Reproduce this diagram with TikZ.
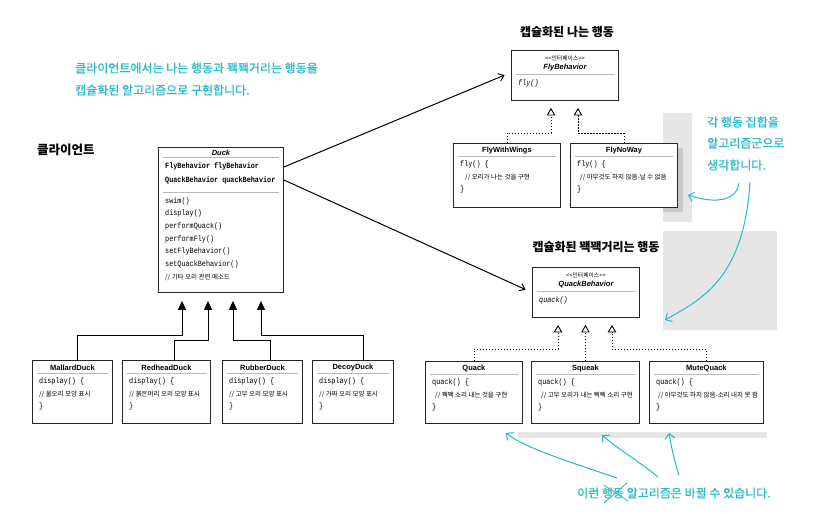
\documentclass[tikz,border=0pt]{standalone}
\usepackage{fontspec}
\setmainfont{Liberation Sans}
\newfontfamily\kr{Noto Sans CJK KR}
\newfontfamily\krh[FakeBold=0.6]{Noto Sans CJK KR}
\newfontfamily\mono[FakeStretch=0.85]{Liberation Mono}
\usetikzlibrary{arrows.meta,calc}
\definecolor{hand}{RGB}{38,186,200}
\definecolor{bggray}{RGB}{230,230,230}
\definecolor{shgray}{RGB}{200,200,200}
\definecolor{sepgray}{RGB}{185,185,185}
\tikzset{
 cls/.style={draw=black!85, line width=0.9pt, fill=white, inner sep=0pt, anchor=north west},
 ctitle/.style={font=\fontsize{7.5}{8}\selectfont\bfseries, inner sep=0pt},
 ititle/.style={font=\fontsize{7.5}{8}\selectfont\bfseries\itshape, inner sep=0pt},
 code/.style={font=\mono\fontsize{8}{9}\selectfont, inner sep=0pt, anchor=west},
 bcode/.style={font=\mono\bfseries\fontsize{8}{9}\selectfont, inner sep=0pt, anchor=west},
 icode/.style={font=\mono\itshape\fontsize{8}{9}\selectfont, inner sep=0pt, anchor=west},
 cmt/.style={font=\kr\fontsize{6.5}{7}\selectfont, inner sep=0pt, anchor=west},
 stereo/.style={font=\kr\fontsize{5.8}{7}\selectfont, inner sep=0pt},
 sepl/.style={draw=sepgray, line width=0.6pt},
 inh/.style={line width=0.9pt, -{Triangle[length=9pt,width=8pt]}, shorten >=8pt},
 real/.style={line width=0.9pt, dash pattern=on 1.5pt off 1.5pt, -{Triangle[open,length=7.5pt,width=8.5pt]}, shorten >=7pt},
 assoc/.style={line width=1pt, -{Straight Barb[length=5pt,width=8pt]}, shorten >=7pt},
 handarr/.style={draw=hand, line width=1pt, -{Straight Barb[length=5pt,width=10pt]}},
 handtxt/.style={font=\krh\fontsize{12}{14}\selectfont, text=hand, inner sep=0pt},
 head/.style={font=\kr\bfseries\fontsize{12}{14}\selectfont, inner sep=0pt},
}
\newcommand\implbox[9]{%
 \node[cls, minimum width=#4pt, minimum height=#5pt] (#1) at (#2,#3) {};
 \node[ctitle] (#1-t) at ([yshift=-8pt]#1.north) {#6};
 \draw[sepl] ([xshift=5pt,yshift=-13.5pt]#1.north west) -- ([xshift=-5pt,yshift=-13.5pt]#1.north east);
 \node[code] (#1-a) at ([xshift=7pt,yshift=-21.5pt]#1.north west) {#7};
 \node[cmt] (#1-b) at ([xshift=#8pt,yshift=-34pt]#1.north west) {#9};
 \node[code] (#1-c) at ([xshift=7pt,yshift=-46.5pt]#1.north west) {\}};
}
\newcommand\ifbox[7]{%
 \node[cls, minimum width=#4pt, minimum height=#5pt] (#1) at (#2,#3) {};
 \node[stereo] (#1-s) at ([yshift=-8pt]#1.north) {<\kern0pt<인터페이스>\kern0pt>};
 \node[ititle] (#1-t) at ([yshift=-18pt]#1.north) {#6};
 \draw[sepl] ([xshift=5pt,yshift=-24pt]#1.north west) -- ([xshift=-5pt,yshift=-24pt]#1.north east);
 \node[icode] (#1-m) at ([xshift=7pt,yshift=-33.5pt]#1.north west) {#7};
}
\begin{document}
\begin{tikzpicture}[x=1pt,y=-1pt]
\useasboundingbox (0,0) rectangle (815,514);
\fill[white] (0,0) rectangle (815,514);
% gray backgrounds
\fill[bggray] (663,113) rectangle (692,222);
\fill[bggray] (663,231) rectangle (777,330);
\fill[bggray] (518,432) rectangle (767,438);
\fill[shgray] (663,148) rectangle (683,212);

% headings
\node[head, anchor=west, font=\kr\bfseries\fontsize{12.5}{14}\selectfont] (h0) at (37,150) {클라이언트};
\node[head] (h1) at (567,32) {캡슐화된 나는 행동};
\node[head] (h2) at (596,247) {캡슐화된 꽥꽥거리는 행동};

% Duck
\node[cls, minimum width=125pt, minimum height=145pt] (duck) at (158,147) {};
\node[ititle] (duck-t) at ([yshift=-5.5pt]duck.north) {Duck};
\draw[sepl] ([xshift=5pt,yshift=-10.5pt]duck.north west) -- ([xshift=-5pt,yshift=-10.5pt]duck.north east);
\node[bcode] (duck-a1) at (165,166) {FlyBehavior flyBehavior};
\node[bcode] (duck-a2) at (165,180) {QuackBehavior quackBehavior};
\draw[sepl] ([xshift=5pt,yshift=-45pt]duck.north west) -- ([xshift=-5pt,yshift=-45pt]duck.north east);
\foreach \t [count=\i] in {swim(),display(),performQuack(),performFly(),setFlyBehavior(),setQuackBehavior()}
  \node[code] (duck-m\i) at (165,{188.3+12.7*\i}) {\t};
\node[cmt] (duck-m7) at (165,277) {// 기타 오리 관련 메소드};

% Duck subclasses
\implbox{md}{32}{360}{80}{63}{MallardDuck}{display() \{}{7}{// 물오리 모양 표시}
\implbox{rd}{122}{360}{88}{63}{RedheadDuck}{display() \{}{7}{// 붉은머리 오리 모양 표시}
\implbox{rb}{222}{360}{80}{63}{RubberDuck}{display() \{}{7}{// 고무 오리 모양 표시}
\implbox{dc}{312}{360}{81}{63}{DecoyDuck}{display() \{}{7}{// 가짜 오리 모양 표시}

\coordinate (j1) at (182,335);
\coordinate (j2) at (208,340);
\coordinate (j3) at (233,340);
\coordinate (j4) at (261,335);
\draw[inh] ([xshift=5pt]md.north) |- (j1) -- (j1 |- duck.south);
\draw[inh] ([xshift=8pt]rd.north) |- (j2) -- (j2 |- duck.south);
\draw[inh] ([xshift=8pt]rb.north) |- (j3) -- (j3 |- duck.south);
\draw[inh] ([xshift=10.5pt]dc.north) |- (j4) -- (j4 |- duck.south);

% Fly behaviours
\ifbox{flyb}{511}{50}{107}{50}{FlyBehavior}{fly()}
\implbox{fww}{453}{143}{107}{64}{FlyWithWings}{fly() \{}{12}{// 오리가 나는 것을 구현}
\implbox{fnw}{570}{143}{107}{64}{FlyNoWay}{fly() \{}{10}{// 아무것도 하지 않음-날 수 없음}
\coordinate (f1) at (551,133);
\coordinate (f2) at (578,133);
\draw[real] (fww.north) |- (f1) -- (f1 |- flyb.south);
\draw[real] (fnw.north) |- (f2) -- (f2 |- flyb.south);

% Quack behaviours
\ifbox{qb}{532}{267}{107}{50}{QuackBehavior}{quack()}
\implbox{qk}{425}{361}{97}{62}{Quack}{quack() \{}{10}{// 꽥꽥 소리 내는 것을 구현}
\implbox{sq}{531}{361}{108}{62}{Squeak}{quack() \{}{10}{// 고무 오리가 내는 삑삑 소리 구현}
\implbox{mq}{649}{361}{114}{62}{MuteQuack}{quack() \{}{9}{// 아무것도 하지 않음-소리 내지 못 함}
\coordinate (q1) at (558,349);
\coordinate (q3) at (612,349);
\draw[real] (qk.north) |- (q1) -- (q1 |- qb.south);
\draw[real] (sq.north) -- (sq.north |- qb.south);
\draw[real] (mq.north) |- (q3) -- (q3 |- qb.south);

% associations
\draw[assoc] ([yshift=-20pt]duck.north east) -- ([yshift=3pt]flyb.west);
\draw[assoc] ([yshift=-33pt]duck.north east) -- (qb.west);

% handwritten notes
\node[handtxt, anchor=west] (c1) at (75,68) {클라이언트에서는 나는 행동과 꽥꽥거리는 행동을};
\node[handtxt, anchor=west] (c2) at (75,90) {캡슐화된 알고리즘으로 구현합니다.};
\node[handtxt, anchor=west] (c3) at (707,122) {각 행동 집합을};
\node[handtxt, anchor=west] (c4) at (707,143) {알고리즘군으로};
\node[handtxt, anchor=west] (c5) at (707,165) {생각합니다.};
\node[handtxt, anchor=west] (c6) at (577,493) {이런 행동 알고리즘은 바뀔 수 있습니다.};
\draw[draw=hand, line width=0.8pt] (604,503) -- (627,483);
\draw[draw=hand, line width=0.8pt] (604,485) -- (628,501);

\coordinate (a1s) at (617,478); \coordinate (a1e) at (506,433);
\coordinate (a2s) at (658,477); \coordinate (a2e) at (602,435);
\coordinate (a3s) at (679,475); \coordinate (a3e) at (669,433);
\coordinate (a4s) at (739,183); \coordinate (a4e) at (688,195);
\coordinate (a5s) at (750,182); \coordinate (a5e) at (665,320);
\draw[handarr] (a1s) .. controls (570,462) and (525,448) .. (a1e);
\draw[handarr] (a2s) .. controls (640,462) and (615,447) .. (a2e);
\draw[handarr] (a3s) .. controls (674,460) and (671,445) .. (a3e);
\draw[handarr] (a4s) .. controls (736,203) and (712,203) .. (a4e);
\draw[handarr] (a5s) .. controls (744,280) and (700,300) .. (a5e);
\end{tikzpicture}
\end{document}
